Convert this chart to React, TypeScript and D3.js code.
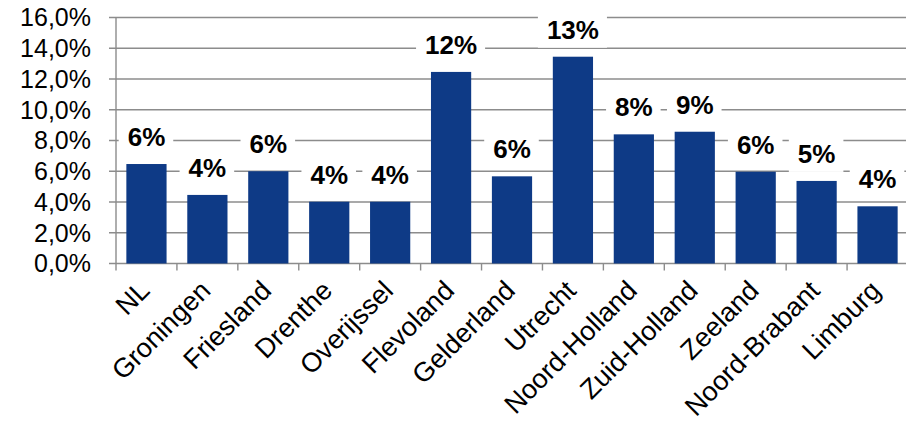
import * as d3 from "d3";
import { useEffect, useRef } from "react";

const categories = [
  "NL",
  "Groningen",
  "Friesland",
  "Drenthe",
  "Overijssel",
  "Flevoland",
  "Gelderland",
  "Utrecht",
  "Noord-Holland",
  "Zuid-Holland",
  "Zeeland",
  "Noord-Brabant",
  "Limburg",
];
const values = [6.47, 4.46, 6.0, 4.02, 4.02, 12.46, 5.67, 13.45, 8.4, 8.57, 5.97, 5.37, 3.72];
const yTicks = [0, 2, 4, 6, 8, 10, 12, 14, 16];

export default function App() {
  const svgRef = useRef<SVGSVGElement | null>(null);

  useEffect(() => {
    if (!svgRef.current) return;
    const svg = d3.select(svgRef.current);
    svg.selectAll("*").remove();

    const width = 906;
    const height = 425;
    const margin = { top: 17.5, left: 116, bottom: 263.5 };
    const font = "Arial, 'Liberation Sans', sans-serif";
    const gridColor = "#8c8c8c";
    const barColor = "#0e3a86";

    const x = d3
      .scaleBand<string>()
      .domain(categories)
      .range([margin.left, 908])
      .padding(0);

    const y = d3.scaleLinear().domain([0, 16]).range([margin.bottom, margin.top]);

    // Grid lines
    svg
      .append("g")
      .selectAll("line")
      .data(yTicks)
      .join("line")
      .attr("x1", margin.left - 7)
      .attr("x2", width)
      .attr("y1", (d) => y(d))
      .attr("y2", (d) => y(d))
      .attr("stroke", gridColor)
      .attr("stroke-width", 1.4);

    // Y axis line
    svg
      .append("line")
      .attr("x1", margin.left)
      .attr("x2", margin.left)
      .attr("y1", y(16))
      .attr("y2", y(0))
      .attr("stroke", gridColor)
      .attr("stroke-width", 1.4);

    // Y tick labels
    const fmt = (d: number) => d.toFixed(1).replace(".", ",") + "%";
    svg
      .append("g")
      .selectAll("text")
      .data(yTicks)
      .join("text")
      .attr("x", margin.left - 25)
      .attr("y", (d) => y(d))
      .attr("dy", "0.35em")
      .attr("text-anchor", "end")
      .style("font-family", font)
      .style("font-size", "25px")
      .attr("fill", "#000")
      .text(fmt);

    // X ticks at band boundaries
    const bounds = categories.map((c) => x(c)!).concat([x.range()[1]]);
    svg
      .append("g")
      .selectAll("line")
      .data(bounds)
      .join("line")
      .attr("x1", (d) => d)
      .attr("x2", (d) => d)
      .attr("y1", y(0))
      .attr("y2", y(0) + 7)
      .attr("stroke", gridColor)
      .attr("stroke-width", 1.4);

    // Bars
    const barW = x.bandwidth() * 0.66;
    svg
      .append("g")
      .selectAll("rect")
      .data(values)
      .join("rect")
      .attr("x", (_, i) => x(categories[i])! + (x.bandwidth() - barW) / 2)
      .attr("y", (d) => y(d))
      .attr("width", barW)
      .attr("height", (d) => y(0) - y(d))
      .attr("fill", barColor);

    // Value labels with white boxes
    const labels = svg.append("g");
    values.forEach((v, i) => {
      const cx = x(categories[i])! + x.bandwidth() / 2;
      const base = y(v) - 18;
      const g = labels.append("g");
      const rect = g.append("rect").attr("fill", "#fff");
      const t = g
        .append("text")
        .attr("x", cx)
        .attr("y", base)
        .attr("text-anchor", "middle")
        .style("font-family", font)
        .style("font-size", "26px")
        .style("font-weight", "bold")
        .attr("fill", "#000")
        .text(`${Math.round(v)}%`);
      const w = (t.node() as SVGTextElement).getComputedTextLength();
      rect
        .attr("x", cx - w / 2 - 9)
        .attr("y", base - 28)
        .attr("width", w + 17)
        .attr("height", 37);
    });

    // Category labels
    svg
      .append("g")
      .selectAll("text")
      .data(categories)
      .join("text")
      .attr(
        "transform",
        (d) => `translate(${x(d)! + x.bandwidth() / 2 - 2},${y(0) + 22}) rotate(-45)`,
      )
      .attr("dy", "0.35em")
      .attr("text-anchor", "end")
      .style("font-family", font)
      .style("font-size", "27px")
      .attr("fill", "#000")
      .text((d) => d);

    svg.attr("width", width).attr("height", height).attr("viewBox", `0 0 ${width} ${height}`);
  }, []);

  return (
    <svg
      ref={svgRef}
      style={{ position: "absolute", left: 0, top: 0, display: "block" }}
    ></svg>
  );
}
